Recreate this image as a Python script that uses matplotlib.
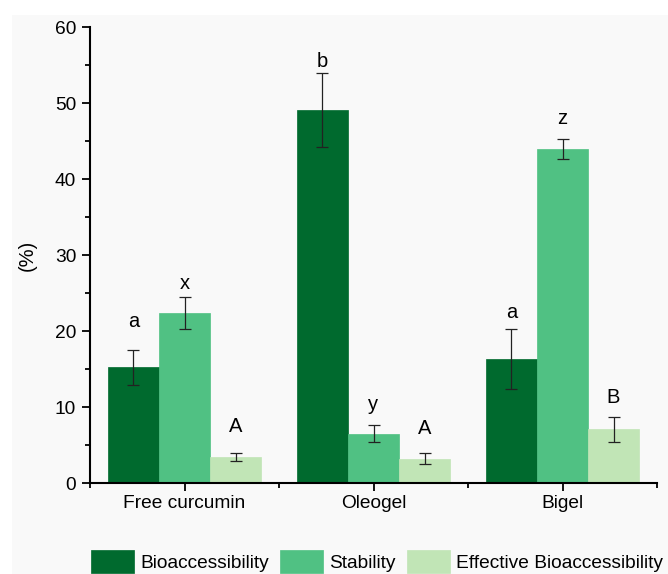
import matplotlib
matplotlib.use("Agg")
import matplotlib.pyplot as plt
from matplotlib.patches import Rectangle
from matplotlib.ticker import MultipleLocator, FixedLocator
import numpy as np

plt.rcParams['font.family'] = ['Liberation Sans', 'DejaVu Sans']

categories = ["Free curcumin", "Oleogel", "Bigel"]
series = ["Bioaccessibility", "Stability", "Effective Bioaccessibility"]
bio = [15.2, 49.1, 16.3]
bio_err = [2.3, 4.9, 3.9]
stab = [22.4, 6.5, 43.9]
stab_err = [2.1, 1.1, 1.3]
eff = [3.4, 3.2, 7.1]
eff_err = [0.55, 0.7, 1.65]
bio_letters = ["a", "b", "a"]
stab_letters = ["x", "y", "z"]
eff_letters = ["A", "A", "B"]
bio_letter_y = [21.3, 55.4, 22.5]
stab_letter_y = [26.3, 10.3, 47.9]
eff_letter_y = [7.4, 7.2, 11.2]
colors = ["#006a2e", "#50c183", "#c1e5b6"]

fig = plt.figure(figsize=(6.68, 5.74), dpi=100, facecolor="white")
fig.patches.append(Rectangle((12/668, 0), 1 - 12/668, 1 - 15/574,
                             transform=fig.transFigure, facecolor="#f9f9f9",
                             edgecolor="none", zorder=-10))
ax = fig.add_axes([90/668, 1 - 483/574, (657 - 90)/668, (483 - 27)/574])
ax.set_facecolor("none")

x = np.arange(len(categories))
w = 0.27
vals = [bio, stab, eff]
errs = [bio_err, stab_err, eff_err]
letters = [bio_letters, stab_letters, eff_letters]
letter_y = [bio_letter_y, stab_letter_y, eff_letter_y]
handles = []
for i in range(3):
    pos = x + (i - 1) * w
    b = ax.bar(pos, vals[i], w, color=colors[i], edgecolor=colors[i], linewidth=0.5,
               label=series[i], zorder=2)
    handles.append(b)
    ax.errorbar(pos, vals[i], yerr=errs[i], fmt="none", ecolor="#222222",
                elinewidth=0.9, capsize=4.5, capthick=0.9, zorder=3)
    for p, t, ly in zip(pos, letters[i], letter_y[i]):
        ax.text(p, ly, t, ha="center", va="center", fontsize=14.5, color="black")

ax.set_xlim(-0.5, 2.5)
ax.set_ylim(0, 60)
ax.set_xticks(x)
ax.set_xticklabels(categories)
ax.xaxis.set_minor_locator(FixedLocator([-0.5, 0.5, 1.5, 2.5]))
ax.yaxis.set_major_locator(MultipleLocator(10))
ax.yaxis.set_minor_locator(MultipleLocator(5))
for s in ["top", "right"]:
    ax.spines[s].set_visible(False)
for s in ["left", "bottom"]:
    ax.spines[s].set_linewidth(1.5)
ax.tick_params(axis="both", which="major", direction="out", length=6, width=1.3,
               labelsize=13.8, pad=3)
ax.tick_params(axis="both", which="minor", direction="out", length=3.5, width=1.3)
ax.tick_params(axis="y", which="major", pad=4)
ax.set_ylabel("(%)", fontsize=14.5, labelpad=13)

fig.legend(handles=handles, labels=series, loc="upper left",
           bbox_to_anchor=(91/668, 1 - 550/574), ncol=3, frameon=False,
           fontsize=13.8, handlelength=2.25, handleheight=1.5, handletextpad=0.3,
           columnspacing=0.6, borderaxespad=0, borderpad=0)

fig.savefig("out.png", dpi=100, facecolor="white")
